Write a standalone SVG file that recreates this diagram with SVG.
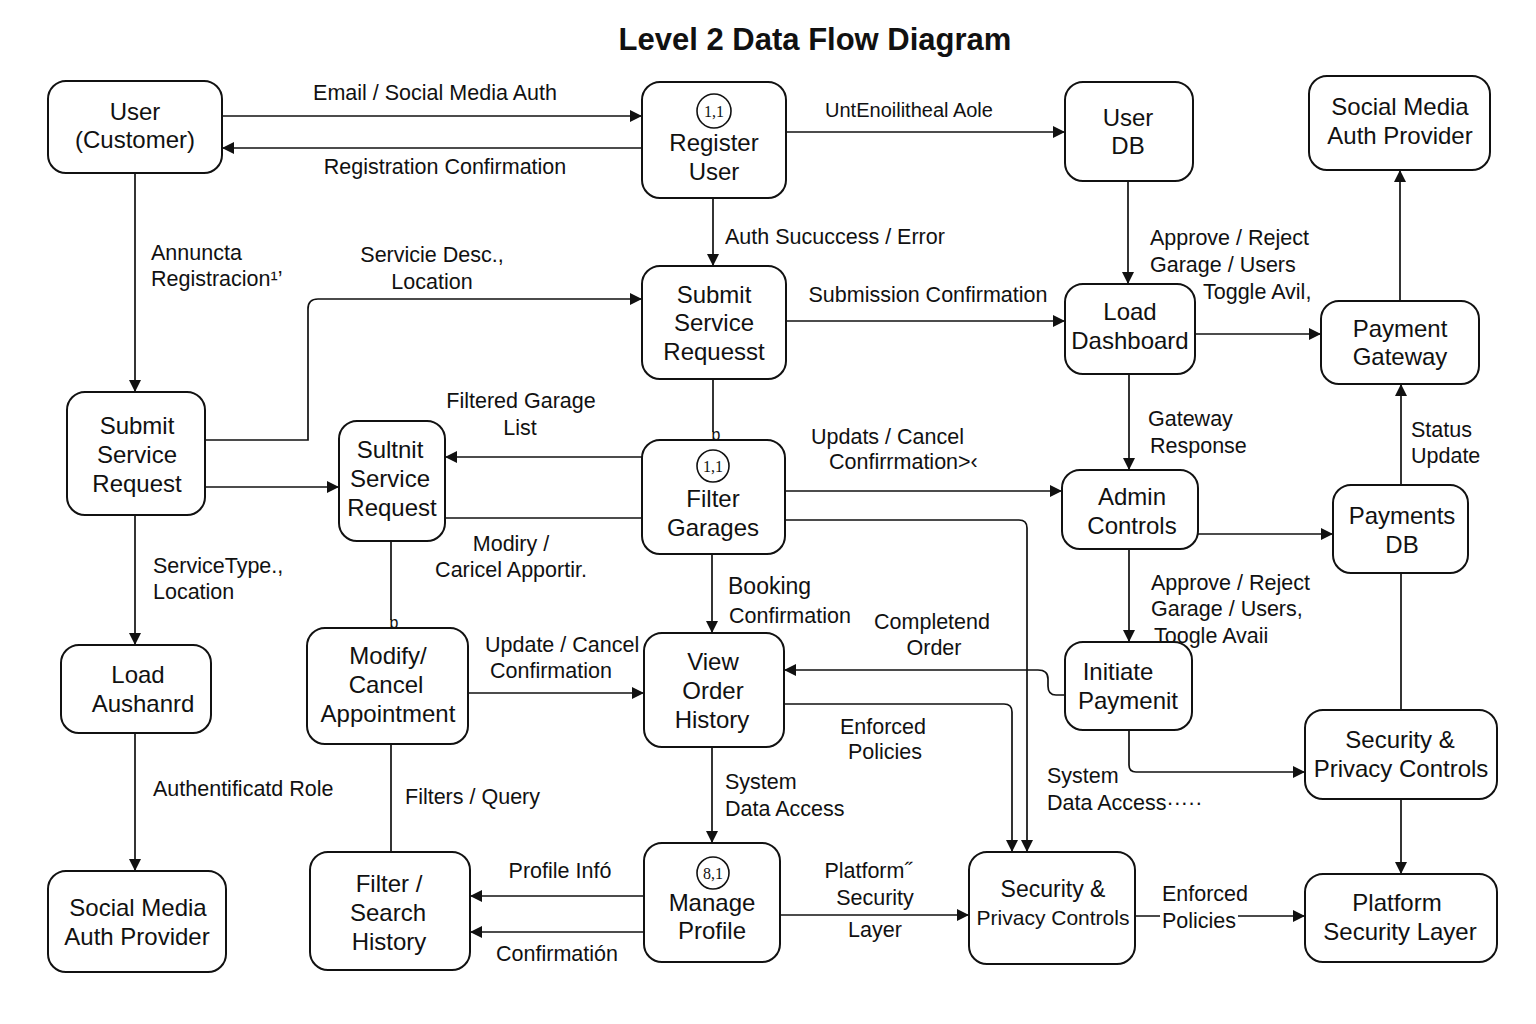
<svg xmlns="http://www.w3.org/2000/svg" width="1536" height="1024" viewBox="0 0 1536 1024">
<style>
.n rect{fill:#fff;stroke:#111;stroke-width:2}
.n text{font-family:"Liberation Sans",Arial,sans-serif;font-size:24px;fill:#111;text-anchor:middle}
.n circle{fill:#fff;stroke:#111;stroke-width:1.6}
.n text.num{font-family:"Liberation Serif",serif;font-size:16px}
.c path{fill:none;stroke:#111;stroke-width:1.7}
.l text{font-family:"Liberation Sans",Arial,sans-serif;font-size:21.5px;fill:#111}
.l .m{text-anchor:middle}
</style>
<defs>
<marker id="a" markerWidth="12" markerHeight="12" refX="11" refY="6" orient="auto" markerUnits="userSpaceOnUse">
<path d="M0,0 L12,6 L0,12 Z" fill="#111"/>
</marker>
</defs>
<rect width="1536" height="1024" fill="#fff"/>
<text x="815" y="50" font-family="Liberation Sans,Arial,sans-serif" font-size="31" font-weight="bold" text-anchor="middle" fill="#111">Level 2 Data Flow Diagram</text>

<g class="c">
<path d="M222,116 H641" marker-end="url(#a)"/>
<path d="M642,148 H223" marker-end="url(#a)"/>
<path d="M786,132 H1064" marker-end="url(#a)"/>
<path d="M135,173 V391" marker-end="url(#a)"/>
<path d="M205,440 H308 V309 Q308,299 318,299 H641" marker-end="url(#a)"/>
<path d="M713,198 V265" marker-end="url(#a)"/>
<path d="M786,321 H1064" marker-end="url(#a)"/>
<path d="M1128,181 V283" marker-end="url(#a)"/>
<path d="M1195,334 H1320" marker-end="url(#a)"/>
<path d="M1400,301 V171" marker-end="url(#a)"/>
<path d="M1129,374 V469" marker-end="url(#a)"/>
<path d="M1401,485 V385" marker-end="url(#a)"/>
<path d="M1198,534 H1332" marker-end="url(#a)"/>
<path d="M1129,549 V641" marker-end="url(#a)"/>
<path d="M1129,730 V765 Q1129,772 1136,772 H1304" marker-end="url(#a)"/>
<path d="M1401,573 V710"/>
<path d="M1401,799 V873" marker-end="url(#a)"/>
<path d="M1135,916 H1160 M1238,916 H1304" marker-end="url(#a)"/>
<path d="M205,487 H338" marker-end="url(#a)"/>
<path d="M135,515 V644" marker-end="url(#a)"/>
<path d="M135,733 V870" marker-end="url(#a)"/>
<path d="M642,457 H446" marker-end="url(#a)"/>
<path d="M445,518 H642"/>
<path d="M713,379 V432"/>
<path d="M391,541 V620"/>
<path d="M391,744 V852"/>
<path d="M468,693 H643" marker-end="url(#a)"/>
<path d="M712,554 V632" marker-end="url(#a)"/>
<path d="M785,491 H1061" marker-end="url(#a)"/>
<path d="M785,520 H1019 Q1027,520 1027,528 V851" marker-end="url(#a)"/>
<path d="M784,704 H1004 Q1012,704 1012,712 V851" marker-end="url(#a)"/>
<path d="M1065,695 H1056 Q1048,695 1048,686 V679 Q1048,670 1038,670 H785" marker-end="url(#a)"/>
<path d="M712,747 V842" marker-end="url(#a)"/>
<path d="M644,896 H471" marker-end="url(#a)"/>
<path d="M644,932 H471" marker-end="url(#a)"/>
<path d="M780,915 H968" marker-end="url(#a)"/>
</g>

<g class="l">
<text class="m" x="435" y="100">Email  /  Social Media Auth</text>
<text class="m" x="445" y="174">Registration Confirmation</text>
<text class="m" x="909" y="117" style="font-size:20px">UntEnoilitheal Aole</text>
<text x="151" y="260">Annuncta</text>
<text x="151" y="286">Registracion¹’</text>
<text class="m" x="432" y="262">Servicie Desc.,</text>
<text class="m" x="432" y="289">Location</text>
<text x="725" y="244">Auth Sucuccess /  Error</text>
<text class="m" x="928" y="302">Submission Confirmation</text>
<text x="1150" y="245">Approve / Reject</text>
<text x="1150" y="272">Garage / Users</text>
<text x="1203" y="299">Toggle Avil,</text>
<text x="1148" y="426">Gateway</text>
<text x="1150" y="453">Response</text>
<text x="1411" y="437">Status</text>
<text x="1411" y="463">Update</text>
<text class="m" x="521" y="408">Filtered Garage</text>
<text class="m" x="520" y="435">List</text>
<text x="811" y="444">Updats / Cancel</text>
<text x="829" y="469">Confirrmation˃‹</text>
<text class="m" x="511" y="551">Modiry /</text>
<text class="m" x="511" y="577">Caricel Apportir.</text>
<text x="153" y="573">ServiceType.,</text>
<text x="153" y="599">Location</text>
<text x="1151" y="590">Approve / Reject</text>
<text x="1151" y="616">Garage / Users,</text>
<text x="1154" y="643">Toogle Avaii</text>
<text x="728" y="594" style="font-size:23px">Booking</text>
<text x="729" y="623">Confirmation</text>
<text class="m" x="932" y="629">Completend</text>
<text class="m" x="934" y="655">Order</text>
<text x="485" y="652">Update / Cancel</text>
<text x="490" y="678">Confirmation</text>
<text class="m" x="883" y="734">Enforced</text>
<text class="m" x="885" y="759">Policies</text>
<text x="153" y="796">Authentificatd Role</text>
<text x="405" y="804">Filters  /  Query</text>
<text x="725" y="789">System</text>
<text x="725" y="816">Data Access</text>
<text x="1047" y="783">System</text>
<text x="1047" y="810">Data Access·····</text>
<text class="m" x="560" y="878">Profile Infó</text>
<text class="m" x="557" y="961">Confirmatión</text>
<text class="m" x="868" y="878">Platform˝</text>
<text class="m" x="875" y="905">Security</text>
<text class="m" x="875" y="937">Layer</text>
<text class="m" x="1205" y="901">Enforced</text>
<text class="m" x="1199" y="928">Policies</text>
<text class="m" x="716" y="440" style="font-size:16px">ɒ</text>
<text class="m" x="394" y="628" style="font-size:16px">ɒ</text>
</g>

<g id="user-customer" class="n"><rect x="48" y="81" width="174" height="92" rx="18"/><text x="135" y="120">User</text><text x="135" y="148">(Customer)</text></g>
<g id="register-user" class="n"><rect x="642" y="82" width="144" height="116" rx="18"/><circle cx="714" cy="111" r="17"/><text class="num" x="714" y="117">1,1</text><text x="714" y="151">Register</text><text x="714" y="180">User</text></g>
<g id="user-db" class="n"><rect x="1065" y="82" width="128" height="99" rx="18"/><text x="1128" y="126">User</text><text x="1128" y="154">DB</text></g>
<g id="social-media-top" class="n"><rect x="1309" y="76" width="181" height="94" rx="18"/><text x="1400" y="115">Social Media</text><text x="1400" y="144">Auth Provider</text></g>
<g id="submit-service-center" class="n"><rect x="642" y="266" width="144" height="113" rx="18"/><text x="714" y="303">Submit</text><text x="714" y="331">Service</text><text x="714" y="360">Requesst</text></g>
<g id="load-dashboard" class="n"><rect x="1065" y="284" width="130" height="90" rx="18"/><text x="1130" y="320">Load</text><text x="1130" y="349">Dashboard</text></g>
<g id="payment-gateway" class="n"><rect x="1321" y="301" width="158" height="83" rx="18"/><text x="1400" y="337">Payment</text><text x="1400" y="365">Gateway</text></g>
<g id="submit-service-left" class="n"><rect x="67" y="392" width="138" height="123" rx="18"/><text x="137" y="434">Submit</text><text x="137" y="463">Service</text><text x="137" y="492">Request</text></g>
<g id="sultnit-service" class="n"><rect x="339" y="421" width="106" height="120" rx="18"/><text x="390" y="458">Sultnit</text><text x="390" y="487">Service</text><text x="392" y="516">Request</text></g>
<g id="filter-garages" class="n"><rect x="642" y="440" width="143" height="114" rx="18"/><circle cx="713" cy="466" r="16"/><text class="num" x="713" y="472">1,1</text><text x="713" y="507">Filter</text><text x="713" y="536">Garages</text></g>
<g id="admin-controls" class="n"><rect x="1062" y="470" width="136" height="79" rx="18"/><text x="1132" y="505">Admin</text><text x="1132" y="534">Controls</text></g>
<g id="payments-db" class="n"><rect x="1333" y="485" width="135" height="88" rx="18"/><text x="1402" y="524">Payments</text><text x="1402" y="553">DB</text></g>
<g id="load-aushanrd" class="n"><rect x="61" y="645" width="150" height="88" rx="18"/><text x="138" y="683">Load</text><text x="143" y="712">Aushanrd</text></g>
<g id="modify-cancel" class="n"><rect x="307" y="628" width="161" height="116" rx="18"/><text x="388" y="664">Modify/</text><text x="386" y="693">Cancel</text><text x="388" y="722">Appointment</text></g>
<g id="view-order-history" class="n"><rect x="644" y="633" width="140" height="114" rx="18"/><text x="713" y="670">View</text><text x="713" y="699">Order</text><text x="712" y="728">History</text></g>
<g id="initiate-payment" class="n"><rect x="1065" y="642" width="127" height="88" rx="18"/><text x="1118" y="680">Initiate</text><text x="1128" y="709">Paymenit</text></g>
<g id="security-privacy-right" class="n"><rect x="1305" y="710" width="192" height="89" rx="18"/><text x="1400" y="748">Security &amp;</text><text x="1401" y="777">Privacy Controls</text></g>
<g id="social-media-bottom" class="n"><rect x="48" y="871" width="178" height="101" rx="18"/><text x="138" y="916">Social Media</text><text x="137" y="945">Auth Provider</text></g>
<g id="filter-search-history" class="n"><rect x="310" y="852" width="160" height="118" rx="18"/><text x="389" y="892">Filter /</text><text x="388" y="921">Search</text><text x="389" y="950">History</text></g>
<g id="manage-profile" class="n"><rect x="644" y="843" width="136" height="119" rx="18"/><circle cx="713" cy="873" r="16"/><text class="num" x="713" y="879">8,1</text><text x="712" y="911">Manage</text><text x="712" y="939">Profile</text></g>
<g id="security-privacy-bottom" class="n"><rect x="969" y="852" width="166" height="112" rx="18"/><text x="1053" y="897" style="font-size:23px">Security &amp;</text><text x="1053" y="925" style="font-size:21px">Privacy Controls</text></g>
<g id="platform-security" class="n"><rect x="1305" y="874" width="192" height="88" rx="18"/><text x="1397" y="911">Platform</text><text x="1400" y="940">Security Layer</text></g>
</svg>
